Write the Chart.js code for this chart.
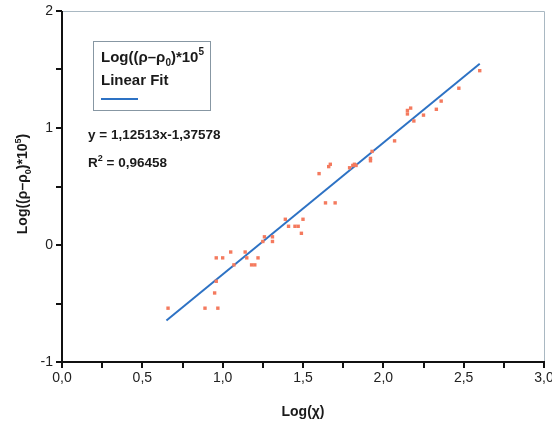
<!DOCTYPE html>
<html>
<head>
<meta charset="utf-8">
<script src="https://cdn.jsdelivr.net/npm/chart.js@4.4.0/dist/chart.umd.min.js"></script>
<style>
  html, body { margin: 0; padding: 0; background: #fff; }
  #wrap { width: 552px; height: 426px; position: relative; }
</style>
</head>
<body>
<div id="wrap"><canvas id="chart" width="552" height="426"></canvas></div>
<script>
const xValues = [0.66, 0.89, 0.97, 0.95, 0.96, 0.96, 1.00, 1.05, 1.07, 1.14,
                 1.15, 1.18, 1.20, 1.22, 1.25, 1.26, 1.31, 1.31, 1.39, 1.41,
                 1.45, 1.47, 1.49, 1.50, 1.64, 1.70, 1.60, 1.66, 1.67, 1.79,
                 1.81, 1.82, 1.83, 1.92, 1.92, 1.93, 2.07, 2.15, 2.15, 2.17,
                 2.19, 2.25, 2.33, 2.36, 2.47, 2.60];
const yValues = [-0.54, -0.54, -0.54, -0.41, -0.31, -0.11, -0.11, -0.06, -0.17, -0.06,
                 -0.11, -0.17, -0.17, -0.11, 0.03, 0.07, 0.07, 0.03, 0.22, 0.16,
                 0.16, 0.16, 0.10, 0.22, 0.36, 0.36, 0.61, 0.67, 0.69, 0.66,
                 0.68, 0.69, 0.68, 0.72, 0.74, 0.80, 0.89, 1.12, 1.15, 1.17,
                 1.06, 1.11, 1.16, 1.23, 1.34, 1.49];

// fitted line end points
const fitX = [0.65, 2.60];
const fitY = [-0.645, 1.55];

const xTickLabels = ['0,0', '0,5', '1,0', '1,5', '2,0', '2,5', '3,0'];
const yTickLabels = ['-1', '0', '1', '2'];

const FONT = '"Liberation Sans", Arial, sans-serif';

// draws a line of text made of pieces, some of them raised or lowered
function richText(ctx, x, y, parts, size) {
    parts.forEach(p => {
        const s = p.small ? Math.round(size * 0.65) : size;
        ctx.font = 'bold ' + s + 'px ' + FONT;
        const dy = p.sup ? -size * 0.45 : (p.sub ? size * 0.25 : 0);
        ctx.fillText(p.t, x, y + dy);
        x += ctx.measureText(p.t).width;
    });
    return x;
}
function richWidth(ctx, parts, size) {
    let w = 0;
    parts.forEach(p => {
        const s = p.small ? Math.round(size * 0.65) : size;
        ctx.font = 'bold ' + s + 'px ' + FONT;
        w += ctx.measureText(p.t).width;
    });
    return w;
}

const rhoLabel = [
    { t: 'Log((\u03C1\u2013\u03C1' },
    { t: '0', small: true, sub: true },
    { t: ')*10' },
    { t: '5', small: true, sup: true }
];

const overlay = {
    id: 'overlay',
    afterDraw(chart) {
        const ctx = chart.ctx;
        const a = chart.chartArea;
        ctx.save();

        // light frame on top and right
        ctx.strokeStyle = '#a9b8c2';
        ctx.lineWidth = 1;
        ctx.beginPath();
        ctx.moveTo(a.left, a.top + 0.5);
        ctx.lineTo(a.right + 0.5, a.top + 0.5);
        ctx.lineTo(a.right + 0.5, a.bottom);
        ctx.stroke();

        // black axes
        ctx.strokeStyle = '#111';
        ctx.lineWidth = 2;
        ctx.beginPath();
        ctx.moveTo(a.left, a.top);
        ctx.lineTo(a.left, a.bottom);
        ctx.lineTo(a.right + 1, a.bottom);
        ctx.stroke();

        ctx.fillStyle = '#1a1a1a';
        ctx.textBaseline = 'alphabetic';
        ctx.textAlign = 'left';

        // legend box
        ctx.strokeStyle = '#8797a3';
        ctx.lineWidth = 1;
        ctx.strokeRect(93.5, 41.5, 117, 69);
        richText(ctx, 101, 62, rhoLabel, 15);
        ctx.font = 'bold 15px ' + FONT;
        ctx.fillText('Linear Fit', 101, 85);
        ctx.strokeStyle = '#2d72c4';
        ctx.lineWidth = 2;
        ctx.beginPath();
        ctx.moveTo(101, 99);
        ctx.lineTo(138, 99);
        ctx.stroke();

        // fit equation
        ctx.font = 'bold 13.5px ' + FONT;
        ctx.fillText('y = 1,12513x-1,37578', 88, 139);
        richText(ctx, 88, 167, [
            { t: 'R' }, { t: '2', small: true, sup: true }, { t: ' = 0,96458' }
        ], 13.5);

        // axis titles
        ctx.font = 'bold 14px ' + FONT;
        ctx.textAlign = 'center';
        ctx.fillText('Log(\u03C7)', 303, 416);

        ctx.translate(27, 184);
        ctx.rotate(-Math.PI / 2);
        ctx.textAlign = 'left';
        const w = richWidth(ctx, rhoLabel.concat([{ t: ')' }]), 14);
        richText(ctx, -w / 2, 0, rhoLabel.concat([{ t: ')' }]), 14);

        ctx.restore();
    }
};

const scatterPts = xValues.map((x, i) => ({ x: x, y: yValues[i] }));
const fitPts = fitX.map((x, i) => ({ x: x, y: fitY[i] }));

new Chart(document.getElementById('chart'), {
    type: 'scatter',
    data: {
        datasets: [{
            label: 'data',
            data: scatterPts,
            pointStyle: 'rect',
            pointRadius: 2.4,
            backgroundColor: '#f47a5e',
            borderColor: '#f47a5e',
            borderWidth: 0
        }, {
            label: 'Linear Fit',
            type: 'line',
            data: fitPts,
            borderColor: '#2d72c4',
            borderWidth: 2,
            pointRadius: 0,
            fill: false
        }]
    },
    options: {
        responsive: false,
        animation: false,
        layout: { padding: { top: 11, right: 8, left: 0, bottom: 0 } },
        plugins: { legend: { display: false }, tooltip: { enabled: false } },
        scales: {
            x: {
                type: 'linear',
                min: 0, max: 3,
                border: { display: false },
                grid: { drawOnChartArea: false, drawTicks: true, tickLength: 6, color: '#111', lineWidth: 2 },
                ticks: {
                    stepSize: 0.25,
                    autoSkip: false,
                    maxRotation: 0,
                    padding: 2,
                    color: '#222',
                    font: { family: FONT, size: 14 },
                    callback: v => {
                        const k = Math.round(v * 2);
                        return Math.abs(v * 2 - k) < 1e-6 ? xTickLabels[k] : '';
                    }
                },
                afterFit: s => { s.height = 64; s.paddingLeft = 0; s.paddingRight = 0; }
            },
            y: {
                type: 'linear',
                min: -1, max: 2,
                border: { display: false },
                grid: { drawOnChartArea: false, drawTicks: true, tickLength: 6, color: '#111', lineWidth: 2 },
                ticks: {
                    stepSize: 0.5,
                    autoSkip: false,
                    padding: 3,
                    color: '#222',
                    font: { family: FONT, size: 14 },
                    callback: v => Number.isInteger(v) ? yTickLabels[v + 1] : ''
                },
                afterFit: s => { s.width = 62; s.paddingTop = 0; s.paddingBottom = 0; }
            }
        }
    },
    plugins: [overlay]
});
</script>
</body>
</html>
